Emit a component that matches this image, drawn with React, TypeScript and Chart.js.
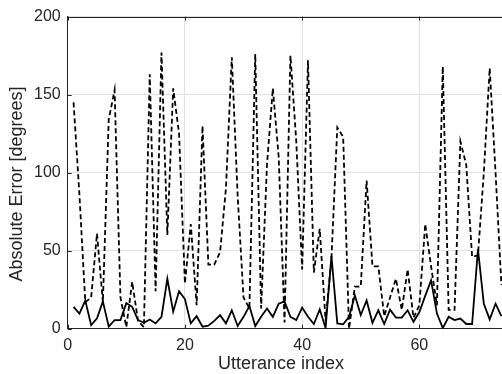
import React, { useEffect, useRef } from "react";
import { Chart, registerables } from "chart.js";

Chart.register(...registerables);

// Utterance indices 1..74 (the visible part of the plot)
const utteranceIndex: number[] = [
  1, 2, 3, 4, 5, 6, 7, 8, 9, 10, 11, 12, 13, 14, 15, 16, 17, 18, 19, 20,
  21, 22, 23, 24, 25, 26, 27, 28, 29, 30, 31, 32, 33, 34, 35, 36, 37, 38, 39, 40,
  41, 42, 43, 44, 45, 46, 47, 48, 49, 50, 51, 52, 53, 54, 55, 56, 57, 58, 59, 60,
  61, 62, 63, 64, 65, 66, 67, 68, 69, 70, 71, 72, 73, 74,
];

// Solid line (absolute error, degrees)
const solidError: number[] = [
  14, 9.7, 18, 2.3, 6.6, 17.5, 1.3, 5.5, 5.5, 16.4,
  14, 5.5, 3.8, 5.9, 3.4, 7.6, 32, 11, 24, 19,
  3.4, 8, 1.3, 1.9, 5, 8.7, 3.4, 11.8, 1.7, 7.6,
  14.5, 1.7, 7.6, 12.9, 7.6, 16, 17.5, 7.6, 5.5, 13.5,
  7.6, 3, 12.4, 0.5, 46.5, 3.4, 2.8, 7.6, 21.3, 8.7,
  18.1, 3.8, 11.8, 3, 12.2, 7.1, 7.1, 11.8, 4.4, 10.7,
  21, 31, 9.7, 0.4, 7.6, 5.5, 6.5, 3, 3, 50.8,
  16, 6, 16, 8,
];

// Dashed line (absolute error, degrees)
const dashedError: number[] = [
  145, 86, 17, 20, 61, 17, 134, 153, 20, 1,
  30, 5, 1, 163, 24, 177, 60, 154, 125, 29,
  67, 15, 130, 41, 41, 49, 90, 174, 85, 20,
  13, 176, 13, 105, 154, 110, 4, 175, 120, 38,
  172, 36, 64, 5, 45, 129, 123, 0, 27, 27,
  95, 40, 40, 8, 20, 32, 12, 38, 7, 15,
  67, 40, 15, 168, 12, 12, 120, 105, 46, 47,
  100, 167, 100, 28,
];

const xTicks: number[] = [0, 20, 40, 60];
const yTicks: number[] = [0, 50, 100, 150, 200];
const xTitle = "Utterance index";
const yTitle = "Absolute Error [degrees]";

const FONT = '"Liberation Sans", Arial, Helvetica, sans-serif';
const TEXT = "#262626";

export default function App() {
  const ref = useRef<HTMLCanvasElement | null>(null);

  useEffect(() => {
    if (!ref.current) return;

    const decor = {
      id: "decor",
      afterDraw(chart: any) {
        const { ctx, chartArea } = chart;
        const { left, right, top, bottom } = chartArea;
        const xs = chart.scales.x;
        const ys = chart.scales.y;
        ctx.save();
        // top border
        ctx.strokeStyle = TEXT;
        ctx.lineWidth = 1;
        ctx.beginPath();
        ctx.moveTo(left, Math.round(top) + 0.5);
        ctx.lineTo(right, Math.round(top) + 0.5);
        ctx.stroke();
        // inner tick marks
        ctx.beginPath();
        for (const v of xTicks) {
          const px = Math.round(xs.getPixelForValue(v)) + 0.5;
          ctx.moveTo(px, bottom);
          ctx.lineTo(px, bottom - 4);
          ctx.moveTo(px, top);
          ctx.lineTo(px, top + 4);
        }
        for (const v of yTicks) {
          const py = Math.round(ys.getPixelForValue(v)) + 0.5;
          ctx.moveTo(left, py);
          ctx.lineTo(left + 4, py);
        }
        ctx.stroke();
        // axis titles
        ctx.fillStyle = TEXT;
        ctx.font = `18px ${FONT}`;
        ctx.textAlign = "center";
        ctx.textBaseline = "middle";
        ctx.fillText(xTitle, 281, 364);
        ctx.translate(17, 184);
        ctx.rotate(-Math.PI / 2);
        ctx.fillText(yTitle, 0, 0);
        ctx.restore();
      },
    };

    const chart = new Chart(ref.current, {
      type: "line",
      data: {
        datasets: [
          {
            label: "dashed",
            data: utteranceIndex.map((x, k) => ({ x, y: dashedError[k] })),
            borderColor: "#000000",
            borderWidth: 1.8,
            borderDash: [5, 3],
            pointRadius: 0,
            tension: 0,
            fill: false,
          },
          {
            label: "solid",
            data: utteranceIndex.map((x, k) => ({ x, y: solidError[k] })),
            borderColor: "#000000",
            borderWidth: 1.8,
            pointRadius: 0,
            tension: 0,
            fill: false,
          },
        ],
      },
      options: {
        animation: false,
        responsive: false,
        devicePixelRatio: 1,
        layout: { padding: { top: 12, left: 0, right: 0, bottom: 0 } },
        plugins: {
          legend: { display: false },
          tooltip: { enabled: false },
        },
        scales: {
          x: {
            type: "linear",
            min: 0,
            max: 74.1,
            afterBuildTicks: (s: any) => {
              s.ticks = xTicks.map((v) => ({ value: v }));
            },
            afterFit: (s: any) => {
              s.height = 45.3;
            },
            ticks: {
              color: TEXT,
              font: { family: FONT, size: 16 },
              padding: 7,
              maxRotation: 0,
            },
            grid: { color: "#e2e2e2", drawTicks: false, lineWidth: 1 },
            border: { display: true, color: TEXT, width: 1 },
          },
          y: {
            type: "linear",
            min: 0,
            max: 200,
            afterBuildTicks: (s: any) => {
              s.ticks = yTicks.map((v) => ({ value: v }));
            },
            afterFit: (s: any) => {
              s.width = 67.7;
            },
            ticks: {
              color: TEXT,
              font: { family: FONT, size: 16 },
              padding: 7,
            },
            grid: { color: "#e2e2e2", drawTicks: false, lineWidth: 1 },
            border: { display: true, color: TEXT, width: 1 },
          },
        },
      },
      plugins: [decor],
    });

    return () => chart.destroy();
  }, []);

  return (
    <div style={{ position: "fixed", left: 0, top: 0, width: 502, height: 374, background: "#ffffff" }}>
      <canvas ref={ref} width={502} height={374} style={{ display: "block", width: 502, height: 374 }} />
    </div>
  );
}
